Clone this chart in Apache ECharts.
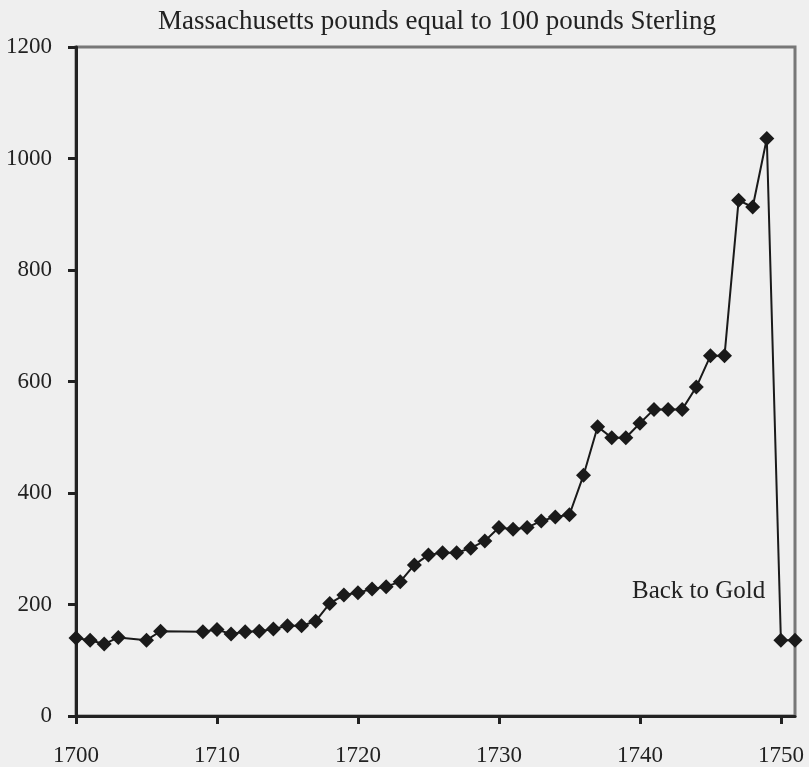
<!DOCTYPE html>
<html>
<head>
<meta charset="utf-8">
<script src="https://cdn.jsdelivr.net/npm/echarts@6/dist/echarts.min.js"></script>
<style>
html,body{margin:0;padding:0;background:#efefef;}
#c{width:809px;height:767px;}
</style>
</head>
<body>
<div id="c"></div>
<script>
const years = [1700,1701,1702,1703,1705,1706,1709,1710,1711,1712,1713,1714,1715,1716,1717,1718,1719,1720,
  1721,1722,1723,1724,1725,1726,1727,1728,1729,1730,1731,1732,1733,1734,1735,1736,1737,1738,1739,1740,
  1741,1742,1743,1744,1745,1746,1747,1748,1749,1750,1751];
const values = [140,136,129,141,136,152,151,155,147,151,152,156,162,162,170,202,217,221,
  228,232,241,271,289,293,293,301,314,338,335,338,350,357,361,432,519,499,499,525,
  550,550,550,590,646,646,925,913,1036,136,136];
const titleText = 'Massachusetts pounds equal to 100 pounds Sterling';
const annotation = 'Back to Gold';

const font = '"Liberation Serif", "DejaVu Serif", serif';
const chart = echarts.init(document.getElementById('c'));
chart.setOption({
  backgroundColor: '#efefef',
  animation: false,
  title: {
    text: titleText, left: 153, top: 3,
    textStyle: {fontFamily: font, fontSize: 27, fontWeight: 'normal', color: '#222'}
  },
  grid: {left: 76, right: 14, top: 47, bottom: 51, show: true, borderColor: '#777', borderWidth: 3, backgroundColor: 'transparent'},
  xAxis: {
    type: 'value', min: 1700, max: 1751, interval: 10,
    axisLine: {show: true, onZero: false, lineStyle: {color: '#222', width: 3}},
    axisTick: {show: true, length: 8, lineStyle: {color: '#222', width: 3}},
    axisLabel: {
      margin: 28, fontFamily: font, fontSize: 23, color: '#222', showMaxLabel: false,
      formatter: v => (v % 10 === 0 ? String(v) : '')
    },
    splitLine: {show: false}
  },
  yAxis: {
    type: 'value', min: 0, max: 1200, interval: 200,
    axisLine: {show: true, lineStyle: {color: '#222', width: 3}},
    axisTick: {show: true, length: 8, lineStyle: {color: '#222', width: 3}},
    axisLabel: {margin: 24, fontFamily: font, fontSize: 23, color: '#222', formatter: v => String(v)},
    splitLine: {show: false}
  },
  series: [{
    type: 'line',
    data: years.map((y, i) => [y, values[i]]),
    symbol: 'diamond', symbolSize: 15,
    itemStyle: {color: '#1a1a1a'},
    lineStyle: {color: '#1a1a1a', width: 2},
    z: 3
  }],
  graphic: [{
    type: 'text', left: 632, top: 579,
    style: {text: annotation, fontFamily: font, fontSize: 25, fill: '#222'}
  }]
});
</script>
</body>
</html>
